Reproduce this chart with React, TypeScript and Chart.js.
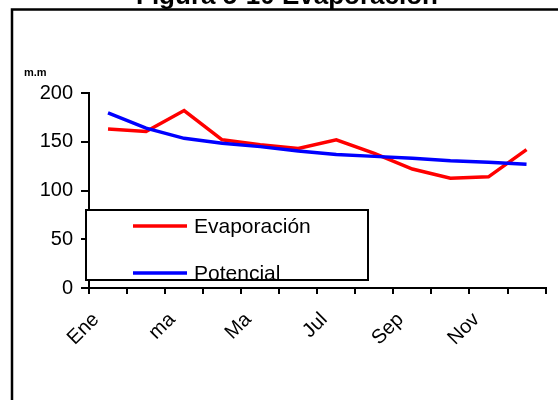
import React, { useEffect, useRef } from "react";
import { Chart, registerables } from "chart.js";

Chart.register(...registerables);

const categories = ["Ene", "Feb", "ma", "Abr", "Ma", "Jun", "Jul", "Ago", "Sep", "Oct", "Nov", "Dic"];
const evaporacion = [163, 160.5, 182, 152, 147, 143, 152, 138, 122, 112.5, 114, 142];
const potencial = [179.5, 164, 153.5, 148.5, 145, 140.5, 137, 135, 133, 130.5, 129, 127];
const yTickValues = [0, 50, 100, 150, 200];
const seriesNames = ["Evaporación", "Potencial"];
const seriesColors = ["#FF0000", "#0000FF"];
const titleText = "Figura 5-10 Evaporación";
const unitText = "m.m";

const FONT = '"Liberation Sans", Arial, sans-serif';

const decorPlugin = {
  id: "decor",
  afterDraw(chart: any) {
    const ctx = chart.ctx as CanvasRenderingContext2D;
    ctx.save();
    // title (cut off at top)
    ctx.fillStyle = "#000";
    ctx.font = `bold 26px ${FONT}`;
    ctx.textAlign = "center";
    ctx.textBaseline = "alphabetic";
    ctx.fillText(titleText, 287, 4);
    // outer frame
    ctx.strokeStyle = "#000";
    ctx.lineWidth = 2.5;
    ctx.beginPath();
    ctx.moveTo(12, 420);
    ctx.lineTo(12, 9.5);
    ctx.lineTo(580, 9.5);
    ctx.stroke();
    // unit label
    ctx.font = `bold 11px ${FONT}`;
    ctx.textAlign = "left";
    ctx.fillText(unitText, 24, 76);
    // legend box
    const bx = 86, by = 210, bw = 282, bh = 70;
    ctx.fillStyle = "#fff";
    ctx.fillRect(bx, by, bw, bh);
    ctx.save();
    ctx.beginPath();
    ctx.rect(bx, by, bw, bh);
    ctx.clip();
    const rows = [226, 273];
    ctx.font = `21px ${FONT}`;
    ctx.textBaseline = "middle";
    seriesNames.forEach((name, i) => {
      ctx.strokeStyle = seriesColors[i];
      ctx.lineWidth = 3.5;
      ctx.beginPath();
      ctx.moveTo(133, rows[i]);
      ctx.lineTo(187, rows[i]);
      ctx.stroke();
      ctx.fillStyle = "#000";
      ctx.fillText(name, 194, rows[i] + 1);
    });
    ctx.restore();
    ctx.strokeStyle = "#000";
    ctx.lineWidth = 2;
    ctx.strokeRect(bx, by, bw, bh);
    ctx.restore();
  },
};

export default function App() {
  const ref = useRef<HTMLCanvasElement>(null);
  useEffect(() => {
    if (!ref.current) return;
    Chart.defaults.font.family = FONT;
    const chart = new Chart(ref.current, {
      type: "line",
      data: {
        labels: categories,
        datasets: [
          {
            label: seriesNames[0],
            data: evaporacion,
            borderColor: seriesColors[0],
            backgroundColor: seriesColors[0],
            borderWidth: 3.5,
            pointRadius: 0,
            tension: 0,
            order: 1,
          },
          {
            label: seriesNames[1],
            data: potencial,
            borderColor: seriesColors[1],
            backgroundColor: seriesColors[1],
            borderWidth: 3.5,
            pointRadius: 0,
            tension: 0,
            order: 0,
          },
        ],
      },
      options: {
        responsive: false,
        animation: false,
        layout: { padding: { left: 0, right: 12, top: 93, bottom: 0 } },
        plugins: {
          legend: { display: false },
          title: { display: false },
          tooltip: { enabled: false },
        },
        scales: {
          x: {
            type: "category",
            offset: true,
            grid: {
              offset: true,
              drawOnChartArea: false,
              drawTicks: true,
              tickLength: 6,
              color: "#000",
              lineWidth: 2,
            },
            border: { color: "#000", width: 2 },
            ticks: {
              autoSkip: false,
              maxRotation: 45,
              minRotation: 45,
              padding: 14,
              labelOffset: -12,
              color: "#000",
              font: { size: 20, family: FONT },
              callback: (_v: any, i: number) => (i % 2 === 0 ? categories[i] : ""),
            },
            afterFit: (s: any) => {
              s.height = 112;
            },
          },
          y: {
            min: 0,
            max: 200,
            grid: {
              drawOnChartArea: false,
              drawTicks: true,
              tickLength: 8,
              color: "#000",
              lineWidth: 2,
            },
            border: { color: "#000", width: 2 },
            afterBuildTicks: (s: any) => {
              s.ticks = yTickValues.map((v) => ({ value: v }));
            },
            ticks: {
              padding: 8,
              color: "#000",
              font: { size: 20, family: FONT },
            },
            afterFit: (s: any) => {
              s.width = 89;
            },
          },
        },
      },
      plugins: [decorPlugin],
    });
    return () => chart.destroy();
  }, []);
  return (
    <div style={{ position: "fixed", left: 0, top: 0, width: 558, height: 400, background: "#fff" }}>
      <canvas ref={ref} width={558} height={400} />
    </div>
  );
}
